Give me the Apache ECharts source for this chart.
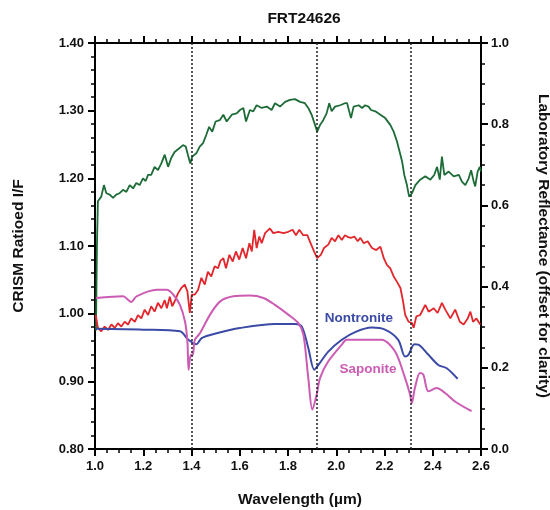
<!DOCTYPE html>
<html>

<head>
    <meta charset="utf-8">
    <title>FRT24626</title>
    <style>
        body { margin: 0; background: #fff; }
        #chart-container { width: 550px; height: 510px; }
    </style>
    <script src="https://cdn.jsdelivr.net/npm/echarts@6/dist/echarts.min.js"></script>
</head>

<body>
    <div id="chart-container"></div>
    <script>
        // CRISM ratioed I/F, upper (green) spectrum
        const greenWl = [1.004, 1.008, 1.012, 1.026, 1.037, 1.047, 1.061, 1.075, 1.088, 1.102, 1.116, 1.130, 1.144, 1.158, 1.171, 1.185, 1.199, 1.210, 1.220, 1.233, 1.247, 1.261, 1.275, 1.289, 1.303, 1.316, 1.330, 1.348, 1.365, 1.376, 1.385, 1.395, 1.403, 1.420, 1.434, 1.448, 1.461, 1.473, 1.486, 1.500, 1.517, 1.532, 1.546, 1.567, 1.587, 1.601, 1.615, 1.626, 1.642, 1.656, 1.670, 1.691, 1.712, 1.732, 1.746, 1.767, 1.788, 1.808, 1.829, 1.850, 1.870, 1.884, 1.898, 1.912, 1.921, 1.933, 1.946, 1.960, 1.971, 1.981, 1.995, 2.016, 2.036, 2.045, 2.061, 2.072, 2.093, 2.107, 2.120, 2.134, 2.144, 2.162, 2.183, 2.203, 2.224, 2.238, 2.252, 2.263, 2.273, 2.282, 2.293, 2.302, 2.314, 2.328, 2.348, 2.369, 2.390, 2.406, 2.418, 2.429, 2.438, 2.448, 2.466, 2.487, 2.508, 2.521, 2.535, 2.549, 2.559, 2.570, 2.576, 2.586, 2.595, 2.600];
        const greenVal = [0.975, 1.100, 1.166, 1.173, 1.190, 1.178, 1.176, 1.171, 1.176, 1.178, 1.183, 1.180, 1.190, 1.185, 1.193, 1.190, 1.200, 1.196, 1.205, 1.205, 1.217, 1.212, 1.222, 1.235, 1.217, 1.230, 1.239, 1.244, 1.249, 1.247, 1.235, 1.222, 1.232, 1.237, 1.247, 1.252, 1.264, 1.276, 1.269, 1.284, 1.286, 1.294, 1.284, 1.294, 1.296, 1.301, 1.304, 1.284, 1.301, 1.299, 1.308, 1.304, 1.306, 1.301, 1.311, 1.306, 1.313, 1.316, 1.317, 1.313, 1.311, 1.304, 1.294, 1.279, 1.269, 1.279, 1.286, 1.296, 1.311, 1.299, 1.306, 1.308, 1.311, 1.311, 1.289, 1.306, 1.308, 1.304, 1.308, 1.306, 1.301, 1.299, 1.294, 1.289, 1.279, 1.269, 1.254, 1.239, 1.225, 1.205, 1.190, 1.173, 1.178, 1.190, 1.198, 1.203, 1.198, 1.205, 1.217, 1.198, 1.232, 1.205, 1.210, 1.203, 1.205, 1.195, 1.190, 1.200, 1.212, 1.195, 1.188, 1.210, 1.217, 1.210];

        // CRISM ratioed I/F, lower (red) spectrum
        const redWl = [1.003, 1.012, 1.026, 1.040, 1.054, 1.068, 1.082, 1.095, 1.109, 1.123, 1.137, 1.150, 1.165, 1.178, 1.192, 1.206, 1.220, 1.233, 1.247, 1.261, 1.275, 1.289, 1.298, 1.310, 1.320, 1.330, 1.344, 1.358, 1.372, 1.383, 1.393, 1.401, 1.413, 1.427, 1.441, 1.455, 1.468, 1.482, 1.496, 1.510, 1.520, 1.532, 1.543, 1.557, 1.571, 1.584, 1.598, 1.612, 1.626, 1.640, 1.650, 1.660, 1.670, 1.681, 1.691, 1.705, 1.725, 1.739, 1.760, 1.781, 1.801, 1.819, 1.833, 1.847, 1.863, 1.880, 1.894, 1.908, 1.921, 1.936, 1.949, 1.967, 1.981, 1.995, 2.009, 2.023, 2.036, 2.050, 2.061, 2.075, 2.089, 2.100, 2.114, 2.130, 2.148, 2.166, 2.183, 2.197, 2.210, 2.224, 2.238, 2.252, 2.266, 2.277, 2.286, 2.300, 2.314, 2.321, 2.332, 2.348, 2.369, 2.383, 2.404, 2.420, 2.438, 2.452, 2.473, 2.493, 2.512, 2.528, 2.545, 2.556, 2.567, 2.581, 2.597];
        const redVal = [0.998, 0.979, 0.974, 0.981, 0.976, 0.984, 0.979, 0.986, 0.981, 0.988, 0.984, 0.993, 0.988, 0.998, 0.993, 1.006, 0.998, 1.011, 1.003, 1.016, 1.008, 1.020, 1.008, 1.025, 1.011, 1.018, 1.030, 1.038, 1.043, 1.033, 1.001, 1.028, 1.028, 1.035, 1.053, 1.043, 1.062, 1.055, 1.070, 1.067, 1.078, 1.082, 1.067, 1.087, 1.077, 1.092, 1.080, 1.097, 1.082, 1.104, 1.092, 1.124, 1.097, 1.114, 1.104, 1.119, 1.126, 1.119, 1.121, 1.119, 1.121, 1.124, 1.116, 1.124, 1.116, 1.116, 1.104, 1.092, 1.082, 1.087, 1.097, 1.102, 1.112, 1.107, 1.116, 1.109, 1.116, 1.113, 1.112, 1.114, 1.107, 1.112, 1.104, 1.107, 1.097, 1.094, 1.099, 1.082, 1.072, 1.067, 1.055, 1.047, 1.038, 1.018, 0.998, 0.988, 0.986, 0.979, 0.996, 0.998, 1.013, 1.003, 1.008, 1.001, 1.016, 1.006, 0.993, 1.006, 0.988, 0.984, 0.993, 1.003, 0.988, 0.993, 0.984];

        // Laboratory reflectance, nontronite
        const nontWl = [1.004, 1.200, 1.352, 1.387, 1.421, 1.442, 1.504, 1.601, 1.746, 1.829, 1.857, 1.884, 1.909, 1.926, 1.967, 2.023, 2.078, 2.147, 2.202, 2.257, 2.285, 2.299, 2.324, 2.340, 2.382, 2.423, 2.458, 2.503];
        const nontVal = [0.296, 0.294, 0.290, 0.269, 0.258, 0.273, 0.285, 0.298, 0.308, 0.308, 0.302, 0.249, 0.195, 0.207, 0.240, 0.269, 0.288, 0.299, 0.294, 0.269, 0.228, 0.232, 0.258, 0.257, 0.232, 0.207, 0.199, 0.173];

        // Laboratory reflectance, saponite
        const sapWl = [1.004, 1.117, 1.138, 1.150, 1.172, 1.256, 1.297, 1.325, 1.352, 1.373, 1.383, 1.388, 1.397, 1.405, 1.414, 1.435, 1.477, 1.518, 1.573, 1.642, 1.698, 1.746, 1.801, 1.843, 1.864, 1.884, 1.901, 1.919, 1.933, 1.967, 2.023, 2.043, 2.119, 2.188, 2.244, 2.285, 2.306, 2.313, 2.326, 2.347, 2.361, 2.382, 2.416, 2.451, 2.492, 2.561];
        const sapVal = [0.372, 0.376, 0.367, 0.362, 0.376, 0.392, 0.392, 0.380, 0.355, 0.314, 0.265, 0.195, 0.232, 0.232, 0.269, 0.285, 0.331, 0.363, 0.376, 0.378, 0.372, 0.355, 0.331, 0.310, 0.281, 0.175, 0.097, 0.134, 0.175, 0.216, 0.257, 0.269, 0.269, 0.269, 0.240, 0.175, 0.134, 0.113, 0.150, 0.187, 0.183, 0.142, 0.150, 0.138, 0.117, 0.093];

        // absorption band positions (dotted guides)
        const bandLines = [1.40, 1.92, 2.31];

        const zip = (xs, ys) => xs.map((x, i) => [x, ys[i]]);

        var dom = document.getElementById('chart-container');
        var myChart = echarts.init(dom, null, { renderer: 'canvas' });

        const font = 'Liberation Sans, Arial, sans-serif';
        const axisLine = { show: true, onZero: false, lineStyle: { color: '#000', width: 2 } };
        const nameStyle = { fontFamily: font, fontSize: 15.5, fontWeight: 'bold', color: '#111' };
        const tickFont = { fontFamily: font, fontSize: 13, fontWeight: 'bold', color: '#111' };

        var option = {
            animation: false,
            backgroundColor: '#fff',
            title: {
                text: 'FRT24626',
                left: 299,
                top: 6,
                textAlign: 'center',
                textStyle: nameStyle
            },
            grid: { left: 95, right: 69, top: 43, bottom: 61, containLabel: false, outerBoundsMode: 'none' },
            xAxis: [
                {
                    type: 'value',
                    min: 1.0,
                    max: 2.6,
                    interval: 0.2,
                    name: 'Wavelength (µm)',
                    nameLocation: 'middle',
                    nameGap: 43,
                    nameTextStyle: Object.assign({ padding: [0, 0, 0, 24] }, nameStyle),
                    axisLine: axisLine,
                    axisTick: { length: 7, lineStyle: { color: '#000', width: 2 } },
                    minorTick: { show: true, splitNumber: 4, length: 4, lineStyle: { color: '#000', width: 1.5 } },
                    splitLine: { show: false },
                    axisLabel: Object.assign({ margin: 11, formatter: v => v.toFixed(1) }, tickFont)
                },
                {
                    type: 'value',
                    position: 'top',
                    min: 1.0,
                    max: 2.6,
                    interval: 0.2,
                    axisLine: axisLine,
                    axisTick: { length: 7, lineStyle: { color: '#000', width: 2 } },
                    minorTick: { show: true, splitNumber: 4, length: 4, lineStyle: { color: '#000', width: 1.5 } },
                    splitLine: { show: false },
                    axisLabel: { show: false }
                }
            ],
            yAxis: [
                {
                    type: 'value',
                    min: 0.8,
                    max: 1.4,
                    interval: 0.1,
                    name: 'CRISM Ratioed I/F',
                    nameLocation: 'middle',
                    nameGap: 68,
                    nameTextStyle: nameStyle,
                    axisLine: axisLine,
                    axisTick: { length: 7, lineStyle: { color: '#000', width: 2 } },
                    minorTick: { show: true, splitNumber: 5, length: 4, lineStyle: { color: '#000', width: 1.5 } },
                    splitLine: { show: false },
                    axisLabel: Object.assign({ margin: 11, formatter: v => v.toFixed(2) }, tickFont)
                },
                {
                    type: 'value',
                    position: 'right',
                    min: 0,
                    max: 1.0,
                    interval: 0.2,
                    name: 'Laboratory Reflectance (offset for clarity)',
                    nameLocation: 'middle',
                    nameRotate: -90,
                    nameGap: 54,
                    nameTextStyle: nameStyle,
                    axisLine: axisLine,
                    axisTick: { length: 7, lineStyle: { color: '#000', width: 2 } },
                    minorTick: { show: true, splitNumber: 4, length: 4, lineStyle: { color: '#000', width: 1.5 } },
                    splitLine: { show: false },
                    axisLabel: Object.assign({ margin: 10, formatter: v => v.toFixed(1) }, tickFont)
                }
            ],
            series: [
                {
                    name: 'CRISM upper',
                    type: 'line',
                    yAxisIndex: 0,
                    data: zip(greenWl, greenVal),
                    showSymbol: false,
                    lineStyle: { color: '#1d6b37', width: 1.8 },
                    z: 3,
                    markLine: {
                        silent: true,
                        symbol: 'none',
                        label: { show: false },
                        lineStyle: { color: '#222', type: [2, 2], width: 1.5 },
                        data: bandLines.map(v => ({ xAxis: v }))
                    }
                },
                {
                    name: 'CRISM lower',
                    type: 'line',
                    yAxisIndex: 0,
                    data: zip(redWl, redVal),
                    showSymbol: false,
                    lineStyle: { color: '#e3262b', width: 1.8 },
                    z: 3
                },
                {
                    name: 'Nontronite',
                    type: 'line',
                    yAxisIndex: 1,
                    data: zip(nontWl, nontVal),
                    showSymbol: false,
                    smooth: 0.3,
                    lineStyle: { color: '#3a4aa6', width: 2 },
                    z: 3,
                    markPoint: {
                        symbol: 'circle',
                        symbolSize: 0,
                        label: {
                            show: true, position: 'inside', formatter: 'Nontronite',
                            fontFamily: font, fontSize: 13.5, fontWeight: 'bold', color: '#3a4aa6'
                        },
                        data: [{ coord: [2.094, 0.323] }]
                    }
                },
                {
                    name: 'Saponite',
                    type: 'line',
                    yAxisIndex: 1,
                    data: zip(sapWl, sapVal),
                    showSymbol: false,
                    smooth: 0.3,
                    lineStyle: { color: '#cc5bb4', width: 2 },
                    z: 3,
                    markPoint: {
                        symbol: 'circle',
                        symbolSize: 0,
                        label: {
                            show: true, position: 'inside', formatter: 'Saponite',
                            fontFamily: font, fontSize: 13.5, fontWeight: 'bold', color: '#cc5bb4'
                        },
                        data: [{ coord: [2.132, 0.196] }]
                    }
                }
            ]
        };

        myChart.setOption(option);
        window.addEventListener('resize', myChart.resize);
    </script>
</body>

</html>
